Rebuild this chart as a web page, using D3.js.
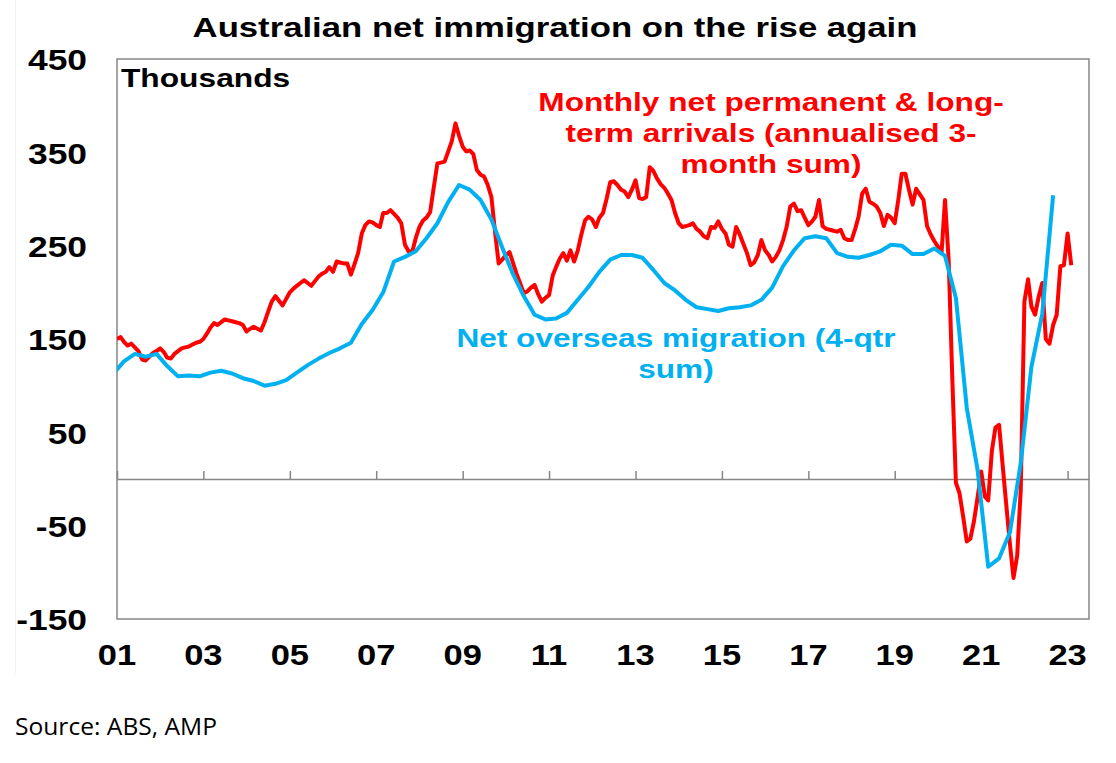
<!DOCTYPE html>
<html>
<head>
<meta charset="utf-8">
<script src="https://cdn.jsdelivr.net/npm/d3@7"></script>
<style>
  body { margin: 0; background: #fff; }
  text { font-family: Arial, "Liberation Sans", sans-serif; }
</style>
</head>
<body>
<div id="chart"></div>
<script>
// monthly net permanent & long-term arrivals, annualised 3-month sum ('000), Jan 2001 - Feb 2023
const arrivalsStart = new Date(2001, 0, 1);
const arrivals = [
  150, 152, 147, 143, 145, 141, 137, 128, 127, 131, 135, 137, // 2001
  140, 136, 130, 129, 134, 137, 140, 141, 142, 144, 146, 147, // 2002
  150, 156, 162, 167, 165, 168, 171, 170, 169, 168, 167, 165, // 2003
  158, 161, 163, 161, 159, 168, 179, 190, 196, 191, 186, 193, // 2004
  200, 204, 207, 210, 213, 210, 207, 212, 217, 220, 222, 227, // 2005
  222, 233, 232, 231, 231, 219, 230, 242, 263, 272, 276, 275, // 2006
  272, 270, 285, 285, 288, 284, 280, 274, 251, 244, 243, 258, // 2007
  270, 277, 280, 286, 312, 338, 339, 340, 351, 362, 381, 368, // 2008
  356, 351, 352, 348, 331, 326, 324, 315, 302, 265, 231, 235, // 2009
  240, 243, 232, 220, 210, 199, 201, 205, 208, 198, 190, 194, // 2010
  197, 218, 227, 236, 242, 234, 245, 233, 245, 262, 277, 281, // 2011
  278, 270, 280, 285, 300, 318, 319, 315, 310, 308, 302, 310, // 2012
  320, 301, 300, 302, 334, 330, 322, 316, 312, 306, 299, 285, // 2013
  274, 270, 271, 272, 274, 268, 265, 260, 258, 270, 269, 276, // 2014
  268, 263, 251, 249, 270, 262, 252, 242, 229, 232, 240, 256, // 2015
  245, 240, 233, 238, 245, 256, 270, 292, 295, 287, 288, 280, // 2016
  272, 276, 281, 299, 271, 268, 267, 266, 265, 267, 258, 256, // 2017
  256, 268, 281, 306, 311, 297, 295, 292, 285, 271, 283, 280, // 2018
  274, 300, 327, 327, 310, 294, 311, 305, 299, 271, 262, 255, // 2019
  249, 243, 299, 234, 110, -4, -15, -40, -67, -64, -45, -20, // 2020
  8, -19, -23, 30, 55, 58, 15, -28, -70, -106, -82, -12,      // 2021
  190, 214, 185, 176, 195, 210, 150, 145, 165, 176, 228, 229, // 2022
  263, 229                                                     // 2023
];

// net overseas migration, 4-quarter sum ('000), quarter ends Dec 2000 - Sep 2022
const nomStart = new Date(2000, 11, 1);
const nom = [
  113,
  126, 134, 131, 134,  // 2001
  121, 110, 111, 110,  // 2002
  114, 116, 113, 108,  // 2003
  105, 100, 102, 106,  // 2004
  114, 122, 129, 135,  // 2005
  140, 146, 166, 181,  // 2006
  200, 233, 238, 244,  // 2007
  258, 274, 297, 315,  // 2008
  310, 299, 278, 248,  // 2009
  220, 196, 176, 171,  // 2010
  172, 178, 192, 206,  // 2011
  222, 235, 240, 240,  // 2012
  237, 224, 210, 202,  // 2013
  192, 184, 182, 180,  // 2014
  183, 184, 186, 192,  // 2015
  205, 228, 245, 258,  // 2016
  260, 258, 242, 238,  // 2017
  237, 240, 244, 251,  // 2018
  250, 241, 241, 247,  // 2019
  239, 194, 76, 10,    // 2020
  -94, -85, -57, 17,   // 2021
  120, 177, 304        // 2022
];

const yTicks = [-150, -50, 50, 150, 250, 350, 450];
const xTickYears = d3.range(2001, 2024, 2);
const redLabel = ["Monthly net permanent & long-", "term arrivals (annualised 3-", "month sum)"];
const blueLabel = ["Net overseas migration (4-qtr", "sum)"];

const arrivalsData = arrivals.map((v, i) => ({date: d3.timeMonth.offset(arrivalsStart, i), value: v}));
const nomData = nom.map((v, i) => ({date: d3.timeMonth.offset(nomStart, i * 3), value: v}));

const width = 1116, height = 763;
const plot = {left: 117, right: 1089, top: 59, bottom: 619};
const stretch = 1.22; // the original slide text is drawn wide

const svg = d3.select("#chart")
    .append("svg")
    .attr("width", width)
    .attr("height", height);

svg.append("rect")
    .attr("width", width)
    .attr("height", height)
    .attr("fill", "#fff");

// faint border on the left of the original slide
svg.append("line")
    .attr("x1", 15.5).attr("x2", 15.5)
    .attr("y1", 0).attr("y2", 673)
    .attr("stroke", "#f0f0f0");

const x = d3.scaleTime()
    .domain([new Date(2001, 0, 1), new Date(2023, 6, 1)])
    .range([plot.left, plot.right]);

const y = d3.scaleLinear()
    .domain([-150, 450])
    .range([plot.bottom, plot.top]);

svg.append("defs").append("clipPath")
    .attr("id", "clip")
    .append("rect")
    .attr("x", plot.left)
    .attr("y", plot.top)
    .attr("width", plot.right - plot.left)
    .attr("height", plot.bottom - plot.top);

// frame
svg.append("rect")
    .attr("x", plot.left)
    .attr("y", plot.top)
    .attr("width", plot.right - plot.left)
    .attr("height", plot.bottom - plot.top)
    .attr("fill", "none")
    .attr("stroke", "#868686")
    .attr("stroke-width", 1.5);

// zero line with year ticks
svg.append("g")
    .attr("transform", `translate(0,${y(0)})`)
    .call(d3.axisBottom(x)
        .tickValues(xTickYears.map(yr => new Date(yr, 0, 1)))
        .tickSize(-8)
        .tickSizeOuter(0)
        .tickFormat(""))
    .call(g => g.select(".domain").attr("stroke", "#868686").attr("stroke-width", 1.5))
    .call(g => g.selectAll(".tick line").attr("stroke", "#868686").attr("stroke-width", 1.5));

// x labels along the bottom
svg.append("g")
    .selectAll("text")
    .data(xTickYears)
    .enter()
    .append("text")
    .attr("transform", d => `translate(${x(new Date(d, 0, 1))},665) scale(1.15,1)`)
    .attr("text-anchor", "middle")
    .style("font-size", "30px")
    .style("font-weight", "bold")
    .text(d => d3.format("02")(d % 100));

// y labels
svg.append("g")
    .attr("transform", "translate(87,0)")
    .call(d3.axisLeft(y).tickValues(yTicks).tickSize(0).tickPadding(0).tickFormat(d => String(d)))
    .call(g => g.select(".domain").remove())
    .call(g => g.selectAll("text")
        .attr("fill", "#000")
        .attr("x", 0)
        .attr("dy", "0.36em")
        .attr("transform", "scale(1.18,1)")
        .style("font-family", "Arial, 'Liberation Sans', sans-serif")
        .style("font-size", "30px")
        .style("font-weight", "bold"));

const line = d3.line()
    .x(d => x(d.date))
    .y(d => y(d.value));

const lines = svg.append("g").attr("clip-path", "url(#clip)");

lines.append("path")
    .datum(arrivalsData)
    .attr("fill", "none")
    .attr("stroke", "#ff0000")
    .attr("stroke-width", 4)
    .attr("stroke-linejoin", "round")
    .attr("d", line);

lines.append("path")
    .datum(nomData)
    .attr("fill", "none")
    .attr("stroke", "#00b0f0")
    .attr("stroke-width", 4)
    .attr("stroke-linejoin", "round")
    .attr("d", line);

// Titles and labels
svg.append("text")
    .attr("transform", `translate(555,37) scale(1.24,1)`)
    .attr("text-anchor", "middle")
    .style("font-size", "28px")
    .style("font-weight", "bold")
    .text("Australian net immigration on the rise again");

svg.append("text")
    .attr("transform", `translate(121,87) scale(${stretch},1)`)
    .style("font-size", "26px")
    .style("font-weight", "bold")
    .text("Thousands");

svg.append("g")
    .selectAll("text")
    .data(redLabel)
    .enter()
    .append("text")
    .attr("transform", (d, i) => `translate(771,${111 + i * 31}) scale(1.24,1)`)
    .attr("text-anchor", "middle")
    .attr("fill", "#ff0000")
    .style("font-size", "25.5px")
    .style("font-weight", "bold")
    .text(d => d);

svg.append("g")
    .selectAll("text")
    .data(blueLabel)
    .enter()
    .append("text")
    .attr("transform", (d, i) => `translate(676,${347 + i * 31}) scale(1.24,1)`)
    .attr("text-anchor", "middle")
    .attr("fill", "#00b0f0")
    .style("font-size", "25.5px")
    .style("font-weight", "bold")
    .text(d => d);

svg.append("text")
    .attr("transform", "translate(15,735) scale(1.07,1)")
    .style("font-family", "'Open Sans', 'Liberation Sans', sans-serif")
    .style("font-size", "23px")
    .text("Source: ABS, AMP");
</script>
</body>
</html>
